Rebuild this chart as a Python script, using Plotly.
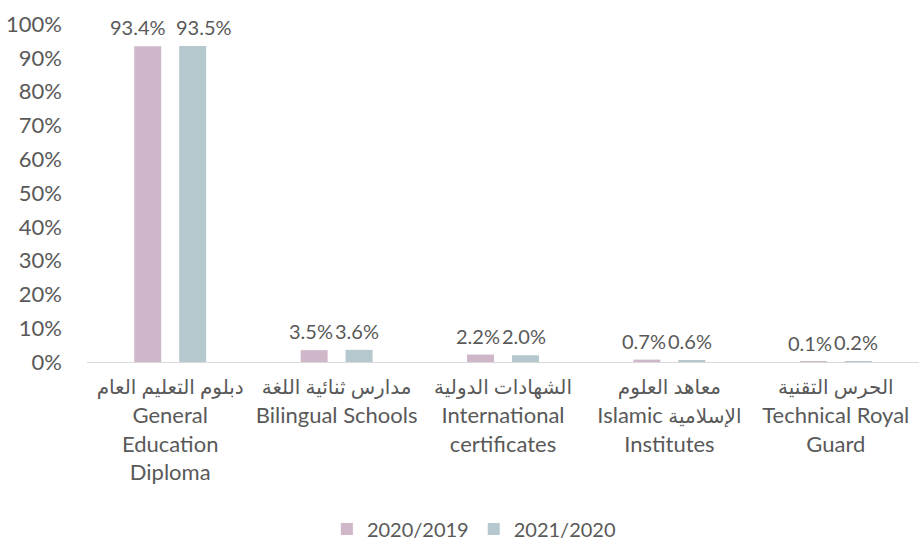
import plotly.graph_objects as go

ar = '<span style="font-size:20px">{}</span>'
categories = [
    ar.format("دبلوم التعليم العام") + "<br>General<br>Education<br>Diploma",
    ar.format("مدارس ثنائية اللغة") + "<br>Bilingual Schools",
    ar.format("الشهادات الدولية") + "<br>International<br>certificates",
    ar.format("معاهد العلوم") + "<br>Islamic " + ar.format("الإسلامية") + "<br>Institutes",
    ar.format("الحرس التقنية") + "<br>Technical Royal<br>Guard",
]
series_names = ["2020/2019", "2021/2020"]
values_2019 = [93.4, 3.5, 2.2, 0.7, 0.1]
values_2020 = [93.5, 3.6, 2.0, 0.6, 0.2]
colors = ["#cfb6c9", "#b4c8cd"]

font_family = "Lato, 'Open Sans', 'DejaVu Sans', sans-serif"
grey = "#595959"
fs = 22

fig = go.Figure()
for name, vals, col in zip(series_names, [values_2019, values_2020], colors):
    fig.add_trace(go.Bar(x=categories, y=vals, name=name, marker_color=col,
                         marker_line_width=0, hoverinfo="skip"))

# data labels, nudged apart like the original so neighbours don't collide
annotations = []
for i, cat in enumerate(categories):
    for s, vals in enumerate([values_2019, values_2020]):
        txt = f"{vals[i]:.1f}%"
        base = -22.5 if s == 0 else 22.5
        if len(txt) >= 5:
            extra = -10 if s == 0 else 11
        else:
            extra = -3 if s == 0 else -2
        annotations.append(dict(
            x=cat, y=vals[i], text=txt, showarrow=False,
            xref="x", yref="y", xshift=base + extra, yanchor="bottom", yshift=5,
            font=dict(family=font_family, size=20, color=grey)))

fig.update_layout(
    width=919, height=541,
    margin=dict(l=87, r=0, t=24, b=179, autoexpand=False),
    paper_bgcolor="white", plot_bgcolor="white",
    barmode="group", bargap=0.46, bargroupgap=0.4,
    font=dict(family=font_family, size=fs, color=grey),
    annotations=annotations,
    showlegend=True,
    legend=dict(orientation="h", x=0.465, xanchor="center", y=-0.494, yanchor="middle",
                font=dict(family=font_family, size=20, color=grey),
                itemwidth=30, traceorder="normal"),
    xaxis=dict(showline=True, linecolor="#d9d9d9", linewidth=1, showgrid=False,
               automargin=False, ticklabelstandoff=5,
               ticks="", tickfont=dict(family=font_family, size=fs, color=grey)),
    yaxis=dict(range=[0, 100], dtick=10, ticksuffix="%", showgrid=False,
               automargin=False,
               zeroline=False, showline=False, ticks="", ticklabelstandoff=24,
               tickfont=dict(family=font_family, size=fs, color=grey)),
)

fig.write_html("out.html", config={"displayModeBar": False},
               post_script="document.body.style.margin='0';document.body.style.overflow='hidden';")
